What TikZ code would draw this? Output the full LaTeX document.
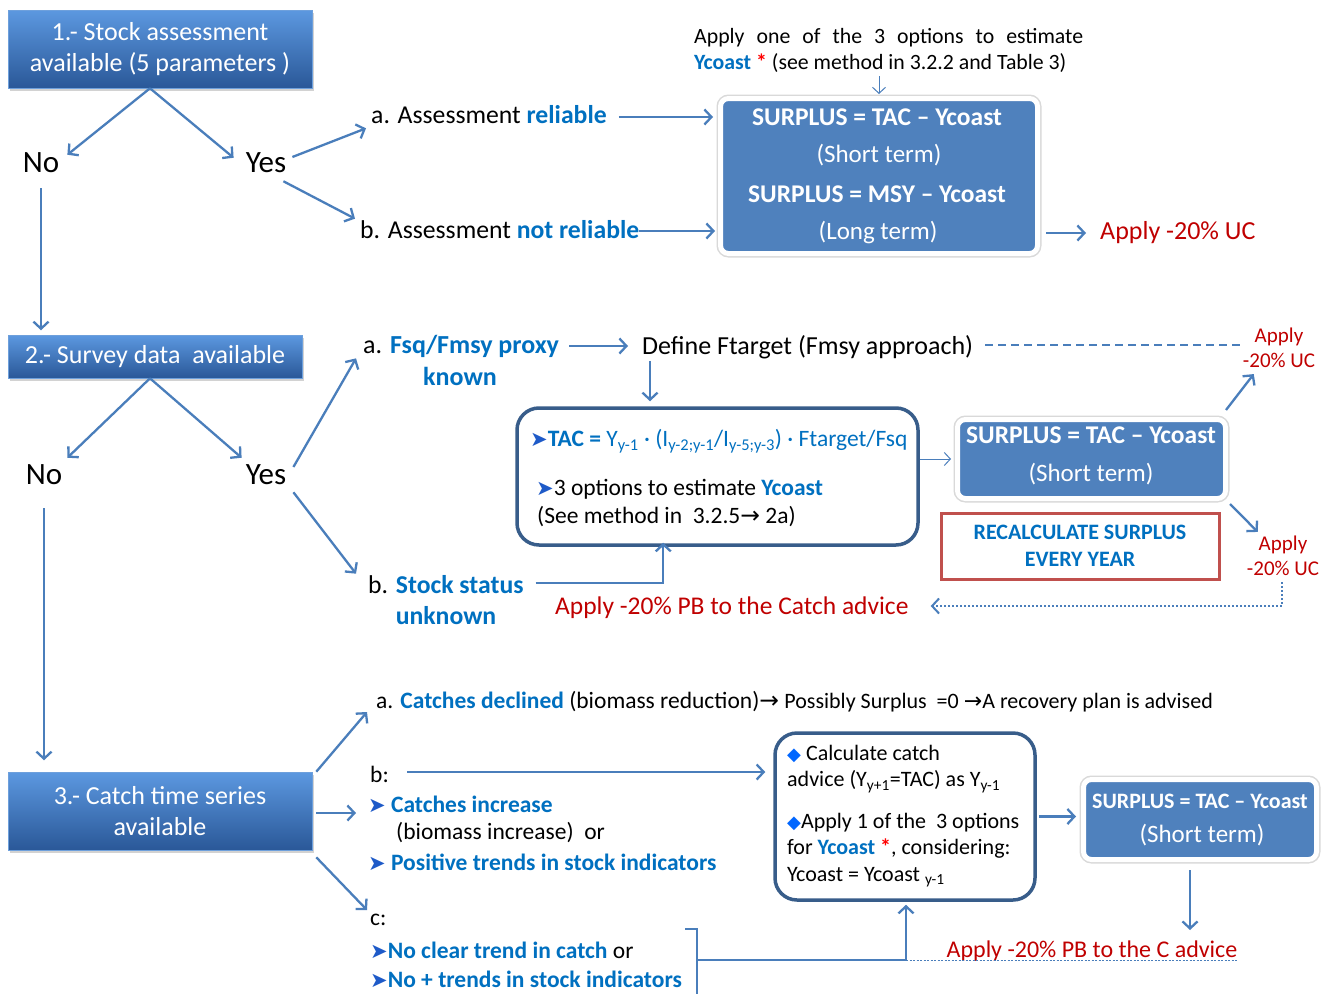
\documentclass[tikz,border=0pt]{standalone}
\usepackage{fontspec}
\setmainfont{Carlito}
\newfontfamily\djv{DejaVu Sans}
\usetikzlibrary{arrows.meta,calc,shadows}
\definecolor{arrowblue}{RGB}{74,126,187}
\definecolor{txtblue}{RGB}{0,112,192}
\definecolor{myred}{RGB}{192,0,0}
\definecolor{boxblue}{RGB}{79,129,189}
\definecolor{darkborder}{RGB}{56,93,138}
\definecolor{redborder}{RGB}{192,80,77}
\definecolor{bevtop}{RGB}{92,152,224}
\definecolor{bevbot}{RGB}{42,88,152}
\definecolor{bevedge}{RGB}{110,160,220}
\definecolor{bulblue}{RGB}{30,90,200}
\definecolor{diablue}{RGB}{0,102,255}
\newcommand\fsz[2]{\fontsize{#1pt}{#2pt}\selectfont}
\newcommand\abul{{\djv\fontsize{21pt}{21pt}\selectfont\textcolor{bulblue}{➤}}}
\newcommand\dbul{{\djv\fontsize{18pt}{18pt}\selectfont\textcolor{diablue}{◆}}}
\newcommand\rarr{{\djv →}}
\begin{document}
\begin{tikzpicture}[x=1pt,y=-1pt,
  bevel/.style={shade, top color=bevtop, bottom color=bevbot, draw=bevedge, line width=0.6pt,
    drop shadow={shadow xshift=2pt, shadow yshift=-3pt, opacity=0.35},
    text=white, align=center, font=\fsz{26}{31}, inner sep=0pt},
  sbox/.style={fill=boxblue, draw=white, line width=5pt, rounded corners=8pt,
    preaction={draw=black!15, line width=8pt},
    drop shadow={shadow xshift=1pt, shadow yshift=-2pt, opacity=0.25}, inner sep=0pt},
  rbox/.style={draw=darkborder, line width=3.5pt, rounded corners=22pt, fill=white, inner sep=0pt},
  yn/.style={inner sep=0pt, font=\fsz{31}{36}},
  lbl/.style={inner sep=0pt, font=\fsz{25.7}{30}},
  wtxt/.style={inner sep=0pt, text=white, font=\fsz{25}{30}},
  wbold/.style={inner sep=0pt, text=white, font=\bfseries\fsz{25.5}{30}},
  redt/.style={inner sep=0pt, text=myred, font=\fsz{25.5}{30}},
  redsm/.style={inner sep=0pt, text=myred, font=\fsz{21}{25}, align=center},
  arr/.style={draw=arrowblue, line width=2.3pt, -{Straight Barb[length=7pt,width=15pt]}},
  thinarr/.style={draw=arrowblue, line width=1pt, -{Straight Barb[length=6pt,width=13pt]}},
  plainline/.style={draw=arrowblue, line width=2.3pt},
  dashline/.style={draw=arrowblue, line width=2pt, dash pattern=on 8pt off 5pt},
  dotarr/.style={draw=arrowblue, line width=2pt, dash pattern=on 2pt off 2pt, -{Straight Barb[length=7pt,width=15pt]}},
  dotline/.style={draw=arrowblue, line width=1pt, dash pattern=on 2pt off 1.5pt}
]
\useasboundingbox (0,0) rectangle (1336,996);
\fill[white] (0,0) rectangle (1336,996);

% ---------- Section 1 ----------
\node[bevel, minimum width=304pt, minimum height=78pt] (b1) at (160,49) {1.- Stock assessment\\available (5 parameters )};
\node[yn] (no1) at (41,163) {No};
\node[yn] (yes1) at (266,163) {Yes};
\node[lbl, anchor=west] (ar) at (371,115) {a. Assessment \textcolor{txtblue}{\bfseries reliable}};
\node[lbl, anchor=west] (anr) at (360,230) {b. Assessment \textcolor{txtblue}{\bfseries not reliable}};
\node[inner sep=0pt, anchor=west, align=left, font=\fsz{21.8}{26}] (tt) at (694,50)
  {\makebox[389pt][s]{Apply one of the 3 options to estimate}\\\textcolor{txtblue}{\bfseries Ycoast} \textcolor{red}{\bfseries *} (see method in 3.2.2 and Table 3)};
\node[sbox, minimum width=317pt, minimum height=155pt] (sb1) at (879,176) {};
\node[wbold] (s1a) at (877,117) {SURPLUS = TAC – Ycoast};
\node[wtxt] (s1b) at (879,155) {(Short term)};
\node[wbold] (s1c) at (877,194) {SURPLUS = MSY – Ycoast};
\node[wtxt] (s1d) at (878,233) {(Long term)};
\node[redt, anchor=west, font=\fsz{26}{30}] (uc1) at (1100,233) {Apply -20\% UC};

\draw[arr] ([xshift=-10pt]b1.south) -- ($(no1.north east)+(8,2)$);
\draw[arr] ([xshift=-10pt]b1.south) -- ($(yes1.north west)+(-12,5)$);
\draw[arr] ($(no1.south)+(0,15)$) -- ($(no1.south)+(0,157)$);
\draw[arr] ($(yes1.east)+(6,-6)$) -- ($(ar.south west)+(-5,4)$);
\draw[arr] ($(yes1.south east)+(-3,8)$) -- ($(anr.north west)+(-5,-2)$);
\draw[arr] ($(ar.east)+(12,2)$) -- ($(ar.east -| sb1.west)+(-5,2)$);
\draw[arr] ($(anr.east)+(0,1)$) -- ($(anr.east -| sb1.west)+(-3,1)$);
\draw[thinarr] ($(tt.south -| sb1.north)+(0,4)$) -- ($(sb1.north)+(0,-2)$);
\draw[arr] ($(sb1.east |- uc1.west)+(6,0)$) -- ($(uc1.west)+(-14,0)$);

% ---------- Section 2 ----------
\node[bevel, minimum width=294pt, minimum height=43pt] (b2) at (155,356.5) {2.- Survey data \ available};
\node[yn] (no2) at (44,475) {No};
\node[yn] (yes2) at (266,475) {Yes};
\node[lbl, anchor=west, font=\fsz{26}{30}] (fa) at (363,346) {a. \textcolor{txtblue}{\bfseries Fsq/Fmsy proxy}};
\node[lbl, font=\bfseries\fsz{26}{30}, text=txtblue] (fak) at (460,376) {known};
\node[lbl, anchor=west, font=\fsz{26}{30}] (df) at (642,347) {Define Ftarget (Fmsy approach)};
\node[redsm] (uc2) at (1279,348) {Apply\\-20\% UC};
\node[rbox, minimum width=401pt, minimum height=137pt] (tac) at (717.5,476.5) {};
\node[inner sep=0pt, anchor=west, font=\fsz{23.5}{26}, text=txtblue] (tac1) at (530,441)
  {\abul\textbf{TAC =} Y\textsubscript{y-1} · (I\textsubscript{y-2;y-1}/I\textsubscript{y-5;y-3}) · Ftarget/Fsq};
\node[inner sep=0pt, anchor=west, font=\fsz{23.5}{26}] (tac2) at (536,489)
  {\abul 3 options to estimate \textcolor{txtblue}{\bfseries Ycoast}};
\node[inner sep=0pt, anchor=west, font=\fsz{23.5}{26}] (tac3) at (537,517)
  {(See method in \ 3.2.5\rarr\ 2a)};
\node[sbox, minimum width=268pt, minimum height=79pt] (sb2) at (1091.5,459) {};
\node[wbold] (s2a) at (1091,435) {SURPLUS = TAC – Ycoast};
\node[wtxt] (s2b) at (1091,474) {(Short term)};
\node[draw=redborder, line width=3pt, minimum width=278pt, minimum height=66pt, align=center,
  font=\bfseries\fsz{22}{27}, text=txtblue, inner sep=0pt] (rc) at (1080,546) {RECALCULATE SURPLUS\\EVERY YEAR};
\node[redsm] (uc3) at (1283,556) {Apply\\-20\% UC};
\node[lbl, anchor=west, font=\fsz{25.7}{30}] (sbs) at (368,585) {b. \textcolor{txtblue}{\bfseries Stock status}};
\node[lbl, font=\bfseries\fsz{25.7}{30}, text=txtblue] (sbu) at (446,616) {unknown};
\node[redt, anchor=west] (pb) at (555,608) {Apply -20\% PB to the Catch advice};

\draw[arr] ([xshift=-5pt]b2.south) -- ($(no2.north east)+(5,-7)$);
\draw[arr] ([xshift=-5pt]b2.south) -- ($(yes2.north west)+(-4,-7)$);
\draw[arr] ($(no2.south)+(0,23)$) -- ($(no2.south)+(0,275)$);
\draw[arr] ($(yes2.east)+(7,-8)$) -- ($(fa.south west)+(-7,1)$);
\draw[arr] ($(yes2.south east)+(7,7)$) -- ($(sbs.north west)+(-12,-2)$);
\draw[arr] ($(fa.east)+(10,0)$) -- ($(fa.east -| df.west)+(-14,0)$);
\draw[dashline] ($(df.east)+(12,-2)$) -- ($(df.east -| uc2.west)+(-2,-2)$);
\coordinate (dfb) at ($(df.south west)+(8,2)$);
\draw[arr] (dfb) -- ($(dfb |- tac.north)+(0,-5)$);
\draw[thinarr] (tac.east |- sb2.west) -- ($(sb2.west)+(-4,0)$);
\draw[arr] ($(sb2.north east)+(-2,-7)$) -- ($(uc2.south west)+(11,6)$);
\draw[arr] ($(sb2.south east)+(2,3)$) -- ($(uc3.north west)+(11,-4)$);
\draw[dotarr] ($(uc3.south)+(-1,6)$) |- ($(pb.east)+(22,-2)$);
\draw[arr] ($(sbs.east)+(12,-2)$) -| ($(tac.south west)+(148,-4)$);

% ---------- Section 3 ----------
\node[bevel, minimum width=304pt, minimum height=78pt] (b3) at (160,811) {3.- Catch time series\\available};
\node[inner sep=0pt, anchor=west, font=\fsz{23.5}{28}] (ca) at (376,702)
  {a. \textcolor{txtblue}{\bfseries Catches declined} (biomass reduction)\rarr\ {\fsz{22}{26}Possibly Surplus \ =0 \rarr A recovery plan is advised}};
\node[inner sep=0pt, anchor=west, font=\fsz{23.5}{28}] (bb) at (370,774) {b:};
\node[inner sep=0pt, anchor=west, font=\fsz{23.5}{28}] (ci) at (368,804) {\abul\ \textcolor{txtblue}{\bfseries Catches increase}};
\node[inner sep=0pt, anchor=west, font=\fsz{23.5}{28}] (bi) at (396,833) {(biomass increase) \ or};
\node[inner sep=0pt, anchor=west, font=\fsz{23.5}{28}] (pt) at (368,862) {\abul\ \textcolor{txtblue}{\bfseries Positive trends in stock indicators}};
\node[inner sep=0pt, anchor=west, font=\fsz{23.5}{28}] (cc) at (370,920) {c:};
\node[inner sep=0pt, anchor=west, font=\fsz{23.5}{28}] (nt1) at (370,950) {\abul\textcolor{txtblue}{\bfseries No clear trend in catch} or};
\node[inner sep=0pt, anchor=west, font=\fsz{23.5}{28}] (nt2) at (370,979) {\abul\textcolor{txtblue}{\bfseries No + trends in stock indicators}};
\node[rbox, minimum width=260pt, minimum height=167pt] (cb) at (905,816.5) {};
\node[inner sep=0pt, anchor=north west, align=left, font=\fsz{22}{26.5}] (cb1) at (787,745)
  {\dbul\ Calculate catch\\advice (Y\textsubscript{y+1}=TAC) as Y\textsubscript{y-1}};
\node[inner sep=0pt, anchor=north west, align=left, font=\fsz{22}{26.5}] (cb2) at (787,813)
  {\dbul Apply 1 of the \ 3 options\\for \textcolor{txtblue}{\bfseries Ycoast} \textcolor{red}{\bfseries *}, considering:\\Ycoast = Ycoast \textsubscript{y-1}};
\node[sbox, minimum width=233pt, minimum height=80pt] (sb3) at (1200,819.5) {};
\node[inner sep=0pt, text=white, font=\bfseries\fsz{22}{26}] (s3a) at (1200,801) {SURPLUS = TAC – Ycoast};
\node[wtxt] (s3b) at (1202,835) {(Short term)};
\node[redt, font=\fsz{24}{30}] (pc) at (1092,951) {Apply -20\% PB to the C advice};

\draw[arr] ($(b3.north east)+(4,0)$) -- ($(ca.west)+(-9,10)$);
\draw[arr] ($(b3.east)+(4,2)$) -- ($(b3.east -| ci.west)+(-12,2)$);
\draw[arr] ($(b3.south east)+(4,7)$) -- ($(cc.north west)+(-3,-4)$);
\draw[arr] ($(bb.east)+(18,-2)$) -- ($(bb.east -| cb.west)+(-8,-2)$);
\draw[arr] ($(cb.east)+(2,0)$) -- ($(cb.east -| sb3.west)+(-5,0)$);
\coordinate (sb3d) at ($(sb3.south)+(-10,0)$);
\draw[arr] ($(sb3d)+(0,8)$) -- ($(sb3d)+(0,68)$);
\coordinate (brtop) at (697,929);
\coordinate (brbot) at (697,994);
\coordinate (brmid) at (697,960);
\draw[plainline] ($(brtop)+(-12,0)$) -- (brtop) -- (brbot);
\draw[arr] (brmid) -| ($(cb.south)+(1,3)$);
\draw[dotline] ($(brmid -| cb.south)+(1,0)$) -- (brmid -| pc.east);
\end{tikzpicture}
\end{document}
